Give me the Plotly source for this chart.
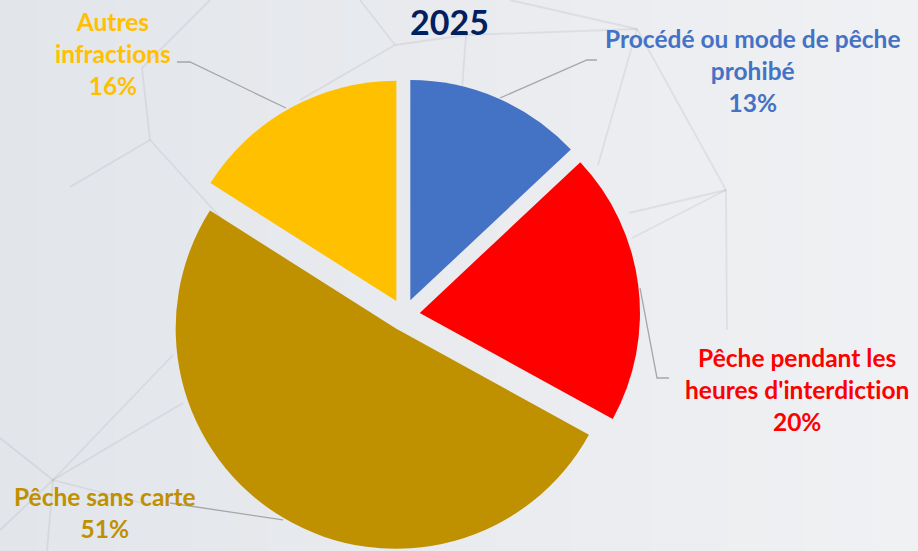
import plotly.graph_objects as go

# data
categories = ['Procédé ou mode de pêche prohibé', "Pêche pendant les heures d'interdiction",
              'Pêche sans carte', 'Autres infractions']
label_lines = ['Procédé ou mode de pêche<br>prohibé', "Pêche pendant les<br>heures d'interdiction",
               'Pêche sans carte', 'Autres<br>infractions']
shares = [13, 20, 51, 16]
colors = ['#4472C4', '#FF0000', '#BF9000', '#FFC000']
title = '2025'

W, H = 918, 551

fig = go.Figure()
fig.add_trace(go.Pie(
    labels=categories,
    values=shares,
    sort=False,
    direction='clockwise',
    rotation=0,
    pull=[0.072] * len(shares),
    textinfo='none',
    hoverinfo='label+percent',
    marker={'colors': colors, 'line': {'width': 0}},
    domain={'x': [166 / W, 642 / W], 'y': [0, 0.857]},
    showlegend=False,
))

# label positions (pixels, top-left origin) and leader lines
label_pos = [(752, 70), (797, 389), (105, 512), (113, 54)]
leaders = [
    [(597, 60), (587, 60), (500, 98)],
    [(669, 378), (657, 378), (640, 288)],
    [(170, 503), (283, 520)],
    [(177, 62), (190, 62), (286, 108)],
]

# faint "network" decoration of the slide background
bg_net = [
    [(510, 0), (637, 29)], [(466, 35), (637, 29)], [(637, 29), (726, 190)],
    [(637, 29), (598, 165)], [(726, 190), (629, 213)], [(726, 190), (632, 238)],
    [(726, 190), (727, 330)], [(395, 45), (360, 0)], [(395, 45), (466, 35)],
    [(466, 35), (462, 90)], [(142, 68), (210, 0)], [(142, 68), (150, 140)],
    [(150, 140), (250, 250)], [(150, 140), (70, 187)], [(395, 45), (300, 100)],
    [(53, 480), (173, 355)], [(53, 480), (183, 403)], [(53, 480), (0, 438)],
    [(53, 480), (47, 551)], [(53, 480), (0, 530)], [(53, 480), (150, 505)],
]

def px(x, y):
    return x / W, 1 - y / H

def hexmix(c1, c2, t):
    a = [int(c1[i:i + 2], 16) for i in (1, 3, 5)]
    b = [int(c2[i:i + 2], 16) for i in (1, 3, 5)]
    return '#' + ''.join(f'{round(p + (q - p) * t):02x}' for p, q in zip(a, b))

shapes = []
nb = 24
for i in range(nb):
    shapes.append(dict(type='rect', xref='paper', yref='paper', x0=i / nb, x1=(i + 1) / nb + 0.002,
                       y0=0, y1=1, line={'width': 0}, layer='below',
                       fillcolor=hexmix('#e2e5ea', '#f0f1f3', i / (nb - 1))))

for (x0, y0), (x1, y1) in bg_net:
    X0, Y0 = px(x0, y0)
    X1, Y1 = px(x1, y1)
    shapes.append(dict(type='line', xref='paper', yref='paper', x0=X0, y0=Y0, x1=X1, y1=Y1,
                       line={'color': 'rgba(120,126,138,0.13)', 'width': 1.8}, layer='below'))

for pts in leaders:
    path = ''
    for i, (x, y) in enumerate(pts):
        X, Y = px(x, y)
        path += ('M' if i == 0 else 'L') + f' {X:.4f},{Y:.4f} '
    shapes.append(dict(type='path', path=path, xref='paper', yref='paper',
                       line={'color': '#A6A6A6', 'width': 1.3}, layer='above'))

annotations = []
for text, pct, col, (lx, ly) in zip(label_lines, shares, colors, label_pos):
    x, y = px(lx, ly)
    shown = text.replace('ti', 't\u200ci')  # avoid the Lato "ti" ligature
    annotations.append(dict(
        text=f'<b>{shown}<br>{pct}%</b>', x=x, y=y, xref='paper', yref='paper',
        xanchor='center', yanchor='middle', showarrow=False, align='center',
        font={'family': 'Lato', 'size': 24.5, 'color': col},
    ))

tx, ty = px(449, 22)
annotations.append(dict(
    text=f'<b>{title}</b>', x=tx, y=ty, xref='paper', yref='paper',
    xanchor='center', yanchor='middle', showarrow=False,
    font={'family': 'Lato', 'size': 34, 'color': '#002060'},
))

fig.update_layout({
    'width': W,
    'height': H,
    'margin': {'t': 0, 'b': 0, 'l': 0, 'r': 0},
    'paper_bgcolor': '#eaecf0',
    'plot_bgcolor': '#eaecf0',
    'annotations': annotations,
    'shapes': shapes,
})

fig.write_html('out.html', config={'displayModeBar': False},
               post_script="document.body.style.margin='0px';")
